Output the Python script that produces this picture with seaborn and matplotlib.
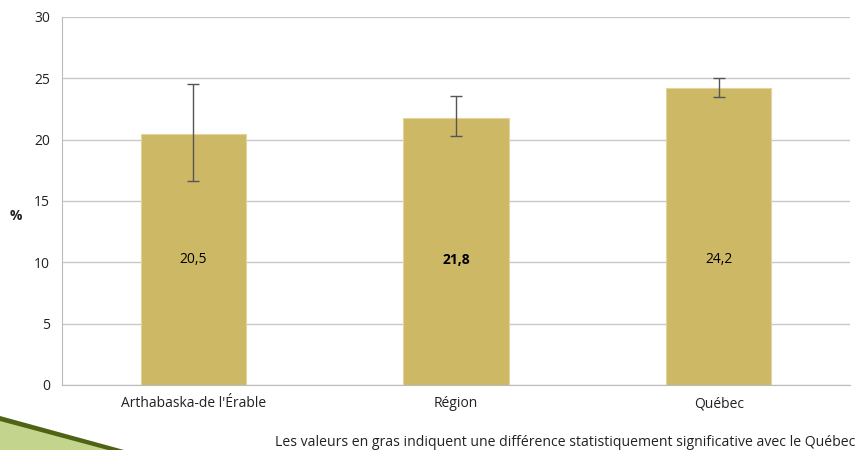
import matplotlib
matplotlib.use("Agg")
import matplotlib.pyplot as plt
from matplotlib.patches import Polygon
import seaborn as sns
import pandas as pd

categories = ["Arthabaska-de l'Érable", "Région", "Québec"]
values = [20.5, 21.8, 24.2]
err_low = [16.6, 20.3, 23.5]
err_high = [24.5, 23.6, 25.0]
labels = ["20,5", "21,8", "24,2"]
bold = [False, True, False]
y_ticks = [0, 5, 10, 15, 20, 25, 30]
note = "Les valeurs en gras indiquent une différence statistiquement significative avec le Québec"

df = pd.DataFrame({"cat": categories, "val": values, "lo": err_low, "hi": err_high})

sns.set_style("white")
plt.rcParams["font.family"] = ["Open Sans", "DejaVu Sans"]

fig = plt.figure(figsize=(8.56, 4.5), dpi=100)
ax = fig.add_axes([62 / 856, 65 / 450, 788 / 856, 368 / 450])

sns.barplot(ax=ax, data=df, x="cat", y="val", color="#CDB866", width=0.4,
            edgecolor="#E2D49A", linewidth=0.8, saturation=1, errorbar=None, zorder=2)

x = range(len(categories))
ax.errorbar(x, df["val"], yerr=[df["val"] - df["lo"], df["hi"] - df["val"]],
            fmt="none", ecolor="#555555", elinewidth=1, capsize=4, capthick=1, zorder=3)

for i, (lab, b) in enumerate(zip(labels, bold)):
    ax.text(i, 10.2, lab, ha="center", va="center", fontsize=10,
            fontweight="bold" if b else "normal", color="black", zorder=4)

ax.set_xlim(-0.5, 2.5)
ax.set_ylim(0, 30)
ax.set_yticks(y_ticks)
ax.yaxis.grid(True, color="#C8C8C8", linewidth=1, zorder=0)
ax.set_axisbelow(True)
for s in ["top", "right"]:
    ax.spines[s].set_visible(False)
ax.spines["left"].set_color("#BBBBBB")
ax.spines["bottom"].set_color("#BBBBBB")
ax.set_xticks([-0.5, 0.5, 1.5, 2.5], minor=True)
ax.tick_params(axis="x", which="major", length=0, labelsize=10, pad=8, colors="#222222")
ax.tick_params(axis="x", which="minor", length=5, color="#BBBBBB")
ax.tick_params(axis="y", length=5, color="#BBBBBB", labelsize=10, colors="#222222")
ax.set_xlabel("")
ax.set_ylabel("%", rotation=0, fontsize=10, fontweight="bold", color="#222222")
ax.yaxis.set_label_coords(-0.058, 0.44)

fig.text(1 - 0.001, 8 / 450, note, ha="right", va="center", fontsize=10.1, color="#222222")

# decoration bottom-left
fig.patches.append(Polygon([(0, 1 - 417 / 450), (0, 0), (122 / 856, 0)],
                           closed=True, transform=fig.transFigure,
                           facecolor="#C3D48C", edgecolor="none"))
fig.patches.append(Polygon([(0, 1 - 416 / 450), (0, 1 - 421 / 450), (108 / 856, 0), (124 / 856, 0)],
                           closed=True, transform=fig.transFigure,
                           facecolor="#4F6314", edgecolor="none"))

fig.savefig("out.png", dpi=100)
